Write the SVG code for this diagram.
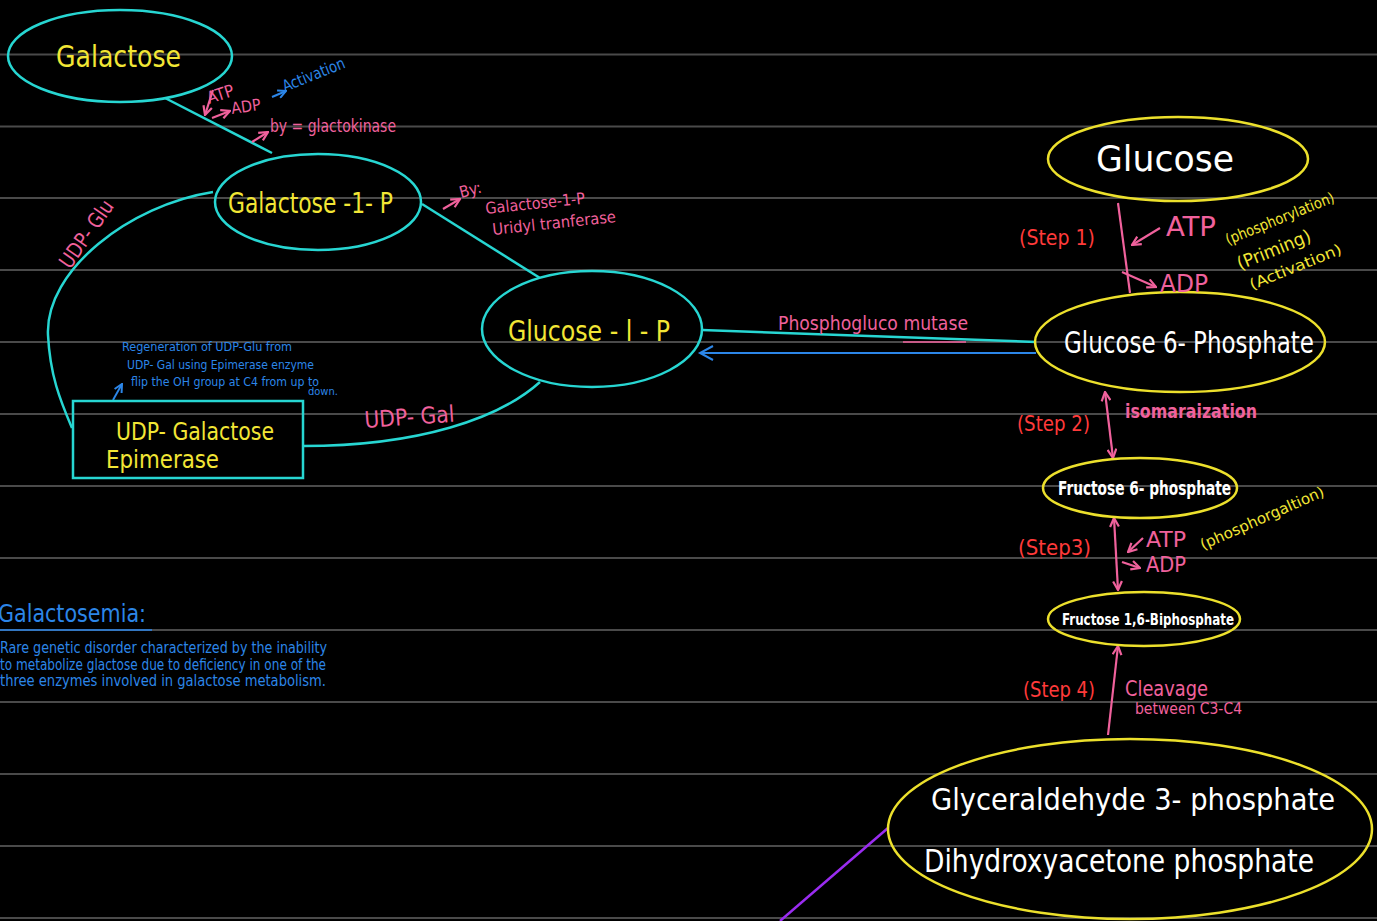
<svg xmlns="http://www.w3.org/2000/svg" width="1377" height="921" viewBox="0 0 1377 921">
<defs>
<style>
text{font-family:"Liberation Sans Narrow","DejaVu Sans Condensed","Liberation Sans",sans-serif;}
.rule{stroke:#4a4a4a;stroke-width:2}
.cy{fill:none;stroke:#27d6d2;stroke-width:2.5}
.ye{fill:none;stroke:#ece02c;stroke-width:2.5}
.ty{fill:#f2e635}
.tw{fill:#ffffff}
.tp{fill:#f0619c}
.tr{fill:#ff3a3a}
.tb{fill:#2c86e8}
.lp{fill:none;stroke:#f0619c;stroke-width:2.2}
.lb{fill:none;stroke:#2c86e8;stroke-width:2}
</style>
<marker id="ap" viewBox="0 0 10 10" refX="9" refY="5" markerWidth="5" markerHeight="5" orient="auto-start-reverse"><path d="M1,1 L9,5 L1,9" fill="none" stroke="#f0619c" stroke-width="2"/></marker>
<marker id="ab" viewBox="0 0 10 10" refX="9" refY="5" markerWidth="5" markerHeight="5" orient="auto-start-reverse"><path d="M1,1 L9,5 L1,9" fill="none" stroke="#2c86e8" stroke-width="2"/></marker>
</defs>
<rect width="1377" height="921" fill="#000"/>
<g id="rules">
<line class="rule" x1="0" y1="54.5" x2="1377" y2="54.5"/>
<line class="rule" x1="0" y1="126.5" x2="1377" y2="126.5"/>
<line class="rule" x1="0" y1="198" x2="1377" y2="198"/>
<line class="rule" x1="0" y1="270" x2="1377" y2="270"/>
<line class="rule" x1="0" y1="342" x2="1377" y2="342"/>
<line class="rule" x1="0" y1="414" x2="1377" y2="414"/>
<line class="rule" x1="0" y1="486" x2="1377" y2="486"/>
<line class="rule" x1="0" y1="558" x2="1377" y2="558"/>
<line class="rule" x1="0" y1="630" x2="1377" y2="630"/>
<line class="rule" x1="0" y1="702" x2="1377" y2="702"/>
<line class="rule" x1="0" y1="774" x2="1377" y2="774"/>
<line class="rule" x1="0" y1="846" x2="1377" y2="846"/>
<line class="rule" x1="0" y1="918" x2="1377" y2="918"/>
</g>
<g id="connectors">
<line class="cy" x1="165" y1="98" x2="272" y2="153"/>
<line class="cy" x1="422" y1="204" x2="540" y2="278"/>
<line class="cy" x1="702" y1="330" x2="1036" y2="342"/>
<line class="lb" x1="1036" y1="353" x2="700" y2="353"/>
<path class="lb" d="M713,346 L700,353 L713,360"/>
<path class="cy" d="M213,192 C130,205 45,270 48,335 C50,375 60,400 72,428"/>
<path class="cy" d="M303,446 C420,446 500,418 540,382"/>
<line class="lp" x1="1118" y1="203" x2="1130" y2="293"/>
<line class="lp" x1="1160" y1="228" x2="1132" y2="245" marker-end="url(#ap)"/>
<line class="lp" x1="1122" y1="272" x2="1156" y2="287" marker-end="url(#ap)"/>
<line class="lp" x1="1105" y1="392" x2="1113" y2="458" marker-start="url(#ap)" marker-end="url(#ap)"/>
<line class="lp" x1="1114" y1="518" x2="1118" y2="590" marker-start="url(#ap)" marker-end="url(#ap)"/>
<line class="lp" x1="1143" y1="538" x2="1128" y2="552" marker-end="url(#ap)"/>
<line class="lp" x1="1122" y1="562" x2="1140" y2="568" marker-end="url(#ap)"/>
<line class="lp" x1="1108" y1="735" x2="1118" y2="646" marker-end="url(#ap)"/>
<line x1="888" y1="828" x2="780" y2="921" stroke="#9a2cf0" stroke-width="2.5"/>
<line class="lp" x1="213" y1="90" x2="205" y2="115" marker-end="url(#ap)"/>
<line class="lp" x1="212" y1="118" x2="230" y2="111" marker-end="url(#ap)"/>
<line class="lb" x1="272" y1="97" x2="286" y2="91" marker-end="url(#ab)"/>
<line class="lp" x1="252" y1="142" x2="268" y2="132" marker-end="url(#ap)"/>
<line class="lp" x1="443" y1="209" x2="460" y2="199" marker-end="url(#ap)"/>
<line class="lb" x1="113" y1="400" x2="122" y2="384" marker-end="url(#ab)"/>
</g>
<g id="galactose">
<ellipse class="cy" cx="120" cy="56" rx="112" ry="46"/>
<text class="ty" x="56" y="67" font-size="30" textLength="125" lengthAdjust="spacingAndGlyphs">Galactose</text>
</g>
<g id="galactose-1-p">
<ellipse class="cy" cx="318" cy="202" rx="103" ry="48"/>
<text class="ty" x="228" y="213" font-size="29" textLength="165" lengthAdjust="spacingAndGlyphs">Galactose -1- P</text>
</g>
<g id="glucose-1-p">
<ellipse class="cy" cx="592" cy="329" rx="110" ry="58"/>
<text class="ty" x="508" y="341" font-size="29" textLength="162" lengthAdjust="spacingAndGlyphs">Glucose - l - P</text>
</g>
<g id="udp-galactose-epimerase">
<rect x="73" y="401" width="230" height="77" fill="none" stroke="#27d6d2" stroke-width="2.5"/>
<text class="ty" x="116" y="440" font-size="25" textLength="158" lengthAdjust="spacingAndGlyphs">UDP- Galactose</text>
<text class="ty" x="106" y="468" font-size="25" textLength="113" lengthAdjust="spacingAndGlyphs">Epimerase</text>
</g>
<g id="glucose">
<ellipse class="ye" cx="1178" cy="159" rx="130" ry="42"/>
<text class="tw" x="1096" y="171" font-size="36" textLength="138" lengthAdjust="spacingAndGlyphs">Glucose</text>
</g>
<g id="glucose-6-phosphate">
<ellipse class="ye" cx="1180" cy="342" rx="145" ry="50"/>
<text class="tw" x="1064" y="353" font-size="30" textLength="250" lengthAdjust="spacingAndGlyphs">Glucose 6- Phosphate</text>
</g>
<g id="fructose-6-phosphate">
<ellipse class="ye" cx="1140" cy="488" rx="97" ry="30"/>
<text class="tw" x="1058" y="495" font-size="20" font-weight="bold" textLength="173" lengthAdjust="spacingAndGlyphs">Fructose 6- phosphate</text>
</g>
<g id="fructose-16-biphosphate">
<ellipse class="ye" cx="1144" cy="619" rx="96" ry="27"/>
<text class="tw" x="1062" y="625" font-size="16" font-weight="bold" textLength="172" lengthAdjust="spacingAndGlyphs">Fructose 1,6-Biphosphate</text>
</g>
<g id="triose-phosphates">
<ellipse class="ye" cx="1130" cy="829" rx="242" ry="90"/>
<text class="tw" x="931" y="810" font-size="30" textLength="404" lengthAdjust="spacingAndGlyphs">Glyceraldehyde 3- phosphate</text>
<text class="tw" x="924" y="872" font-size="32" textLength="390" lengthAdjust="spacingAndGlyphs">Dihydroxyacetone  phosphate</text>
</g>
<g id="labels">
<text class="tp" x="0" y="0" font-size="17" transform="translate(209,104) rotate(-18)">ATP</text>
<text class="tp" x="232" y="114" font-size="16" transform="rotate(-8 232 114)">ADP</text>
<text class="tb" x="0" y="0" font-size="16" transform="translate(285,92) rotate(-22)" textLength="66" lengthAdjust="spacingAndGlyphs">Activation</text>
<text class="tp" x="270" y="132" font-size="18" textLength="126" lengthAdjust="spacingAndGlyphs">by = glactokinase</text>
<text class="tp" x="0" y="0" font-size="16" transform="translate(461,198) rotate(-15)">By:</text>
<text class="tp" x="0" y="0" font-size="16" transform="translate(486,214) rotate(-6)" textLength="100" lengthAdjust="spacingAndGlyphs">Galactose-1-P</text>
<text class="tp" x="0" y="0" font-size="16" transform="translate(493,235) rotate(-6)" textLength="124" lengthAdjust="spacingAndGlyphs">Uridyl tranferase</text>
<text class="tp" x="0" y="0" font-size="21" transform="translate(70,270) rotate(-55)" textLength="78" lengthAdjust="spacingAndGlyphs">UDP- Glu</text>
<text class="tp" x="0" y="0" font-size="23" transform="translate(365,428) rotate(-4)" textLength="90" lengthAdjust="spacingAndGlyphs">UDP- Gal</text>
<text class="tb" x="122" y="351" font-size="12" textLength="170" lengthAdjust="spacingAndGlyphs">Regeneration of  UDP-Glu from</text>
<text class="tb" x="127" y="369" font-size="12" textLength="187" lengthAdjust="spacingAndGlyphs">UDP- Gal using Epimerase enzyme</text>
<text class="tb" x="131" y="386" font-size="12" textLength="188" lengthAdjust="spacingAndGlyphs">flip the OH group at C4 from up to</text>
<text class="tb" x="308" y="395" font-size="11">down.</text>
<text class="tp" x="778" y="330" font-size="19" textLength="190" lengthAdjust="spacingAndGlyphs">Phosphogluco mutase</text>
<line x1="903" y1="342" x2="966" y2="342" stroke="#f0619c" stroke-width="1.5"/>
<text class="tr" x="1019" y="245" font-size="21" textLength="76" lengthAdjust="spacingAndGlyphs">(Step 1)</text>
<text class="tp" x="1166" y="236" font-size="26" textLength="50" lengthAdjust="spacingAndGlyphs">ATP</text>
<text class="tp" x="1160" y="292" font-size="24" textLength="48" lengthAdjust="spacingAndGlyphs">ADP</text>
<text class="ty" x="0" y="0" font-size="15" transform="translate(1228,245) rotate(-22)" textLength="116" lengthAdjust="spacingAndGlyphs">(phosphorylation)</text>
<text class="ty" x="0" y="0" font-size="18" transform="translate(1240,270) rotate(-22)" textLength="78" lengthAdjust="spacingAndGlyphs">(Priming)</text>
<text class="ty" x="0" y="0" font-size="15" transform="translate(1252,290) rotate(-22)" textLength="98" lengthAdjust="spacingAndGlyphs">(Activation)</text>
<text class="tr" x="1017" y="431" font-size="22" textLength="73" lengthAdjust="spacingAndGlyphs">(Step 2)</text>
<text class="tp" x="1125" y="418" font-size="20" font-weight="bold" textLength="132" lengthAdjust="spacingAndGlyphs">isomaraization</text>
<text class="tr" x="1018" y="555" font-size="21" textLength="73" lengthAdjust="spacingAndGlyphs">(Step3)</text>
<text class="tp" x="1146" y="547" font-size="22" textLength="40" lengthAdjust="spacingAndGlyphs">ATP</text>
<text class="tp" x="1146" y="572" font-size="22" textLength="40" lengthAdjust="spacingAndGlyphs">ADP</text>
<text class="ty" x="0" y="0" font-size="15" transform="translate(1203,550) rotate(-24)" textLength="134" lengthAdjust="spacingAndGlyphs">(phosphorgaltion)</text>
<text class="tr" x="1023" y="697" font-size="21" textLength="72" lengthAdjust="spacingAndGlyphs">(Step 4)</text>
<text class="tp" x="1125" y="696" font-size="22" textLength="83" lengthAdjust="spacingAndGlyphs">Cleavage</text>
<text class="tp" x="1135" y="714" font-size="15" textLength="107" lengthAdjust="spacingAndGlyphs">between C3-C4</text>
</g>
<g id="galactosemia-note">
<text class="tb" x="-2" y="622" font-size="24" textLength="148" lengthAdjust="spacingAndGlyphs">Galactosemia:</text>
<line x1="0" y1="630" x2="152" y2="630" stroke="#2c86e8" stroke-width="1.5"/>
<text class="tb" x="0" y="653" font-size="15" textLength="327" lengthAdjust="spacingAndGlyphs">Rare genetic disorder characterized by the inability</text>
<text class="tb" x="0" y="670" font-size="15" textLength="326" lengthAdjust="spacingAndGlyphs">to metabolize glactose due to deficiency in one of the</text>
<text class="tb" x="0" y="686" font-size="15" textLength="326" lengthAdjust="spacingAndGlyphs">three enzymes involved in galactose metabolism.</text>
</g>
</svg>
